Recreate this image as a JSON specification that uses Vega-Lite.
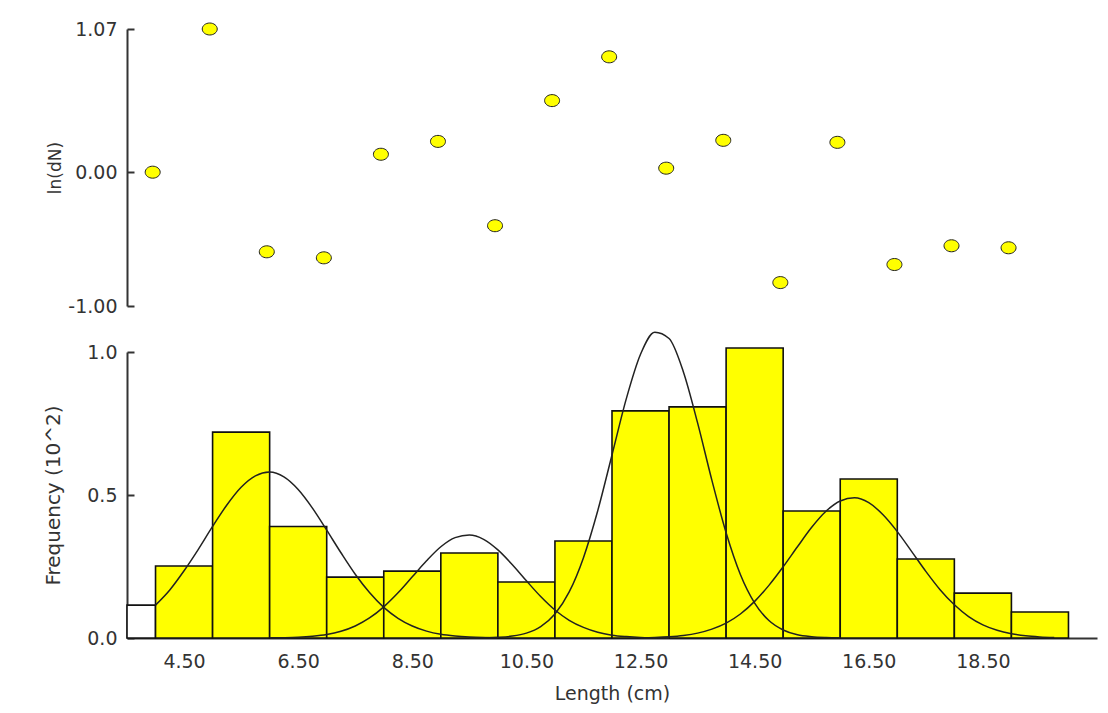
{
  "$schema": "https://vega.github.io/schema/vega-lite/v6.json",
  "background": "white",
  "autosize": {"type": "pad"},
  "padding": {"left": 43, "top": 20, "right": 5, "bottom": 2},
  "spacing": 46,
  "bounds": "flush",
  "config": {
    "view": {"stroke": null},
    "font": "DejaVu Sans",
    "axis": {
      "grid": false,
      "domainColor": "#333333",
      "domainWidth": 2,
      "tickColor": "#333333",
      "tickWidth": 2,
      "tickSize": -7,
      "labelFont": "DejaVu Sans",
      "labelFontSize": 19,
      "labelColor": "#333333",
      "labelPadding": 17,
      "titleFont": "DejaVu Sans",
      "titleFontWeight": "normal",
      "titleColor": "#333333"
    }
  },
  "datasets": {
    "resid": [
      {"length": 3.95, "lndN": 0.0},
      {"length": 4.95, "lndN": 1.07},
      {"length": 5.95, "lndN": -0.595},
      {"length": 6.95, "lndN": -0.64},
      {"length": 7.95, "lndN": 0.134},
      {"length": 8.95, "lndN": 0.23},
      {"length": 9.95, "lndN": -0.40},
      {"length": 10.95, "lndN": 0.535},
      {"length": 11.95, "lndN": 0.862},
      {"length": 12.95, "lndN": 0.03},
      {"length": 13.95, "lndN": 0.238},
      {"length": 14.95, "lndN": -0.825},
      {"length": 15.95, "lndN": 0.223},
      {"length": 16.95, "lndN": -0.69},
      {"length": 17.95, "lndN": -0.55},
      {"length": 18.95, "lndN": -0.565}
    ],
    "bins": [
      {"x0": 3, "x1": 4, "freq": 0.115},
      {"x0": 4, "x1": 5, "freq": 0.252},
      {"x0": 5, "x1": 6, "freq": 0.72},
      {"x0": 6, "x1": 7, "freq": 0.39},
      {"x0": 7, "x1": 8, "freq": 0.213},
      {"x0": 8, "x1": 9, "freq": 0.234},
      {"x0": 9, "x1": 10, "freq": 0.297},
      {"x0": 10, "x1": 11, "freq": 0.196},
      {"x0": 11, "x1": 12, "freq": 0.339},
      {"x0": 12, "x1": 13, "freq": 0.794},
      {"x0": 13, "x1": 14, "freq": 0.808},
      {"x0": 14, "x1": 15, "freq": 1.014},
      {"x0": 15, "x1": 16, "freq": 0.444},
      {"x0": 16, "x1": 17, "freq": 0.556},
      {"x0": 17, "x1": 18, "freq": 0.276},
      {"x0": 18, "x1": 19, "freq": 0.157},
      {"x0": 19, "x1": 20, "freq": 0.091}
    ],
    "curves": [
      {"c": "1", "x": 4.0, "y": 0.115}, {"c": "1", "x": 4.25, "y": 0.168}, {"c": "1", "x": 4.5, "y": 0.235}, {"c": "1", "x": 4.75, "y": 0.31},
      {"c": "1", "x": 5.0, "y": 0.39}, {"c": "1", "x": 5.25, "y": 0.465}, {"c": "1", "x": 5.5, "y": 0.527}, {"c": "1", "x": 5.75, "y": 0.567},
      {"c": "1", "x": 6.0, "y": 0.58}, {"c": "1", "x": 6.25, "y": 0.563}, {"c": "1", "x": 6.5, "y": 0.519}, {"c": "1", "x": 6.75, "y": 0.454},
      {"c": "1", "x": 7.0, "y": 0.377}, {"c": "1", "x": 7.25, "y": 0.298}, {"c": "1", "x": 7.5, "y": 0.223}, {"c": "1", "x": 7.75, "y": 0.159},
      {"c": "1", "x": 8.0, "y": 0.107}, {"c": "1", "x": 8.25, "y": 0.069}, {"c": "1", "x": 8.5, "y": 0.042}, {"c": "1", "x": 8.75, "y": 0.024},
      {"c": "1", "x": 9.0, "y": 0.013}, {"c": "1", "x": 9.25, "y": 0.007}, {"c": "1", "x": 9.5, "y": 0.0035}, {"c": "1", "x": 9.75, "y": 0.0016},
      {"c": "1", "x": 10.0, "y": 0.0007},
      {"c": "2", "x": 6.0, "y": 0.0005}, {"c": "2", "x": 6.25, "y": 0.0012}, {"c": "2", "x": 6.5, "y": 0.0027}, {"c": "2", "x": 6.75, "y": 0.006},
      {"c": "2", "x": 7.0, "y": 0.012}, {"c": "2", "x": 7.25, "y": 0.0235}, {"c": "2", "x": 7.5, "y": 0.042}, {"c": "2", "x": 7.75, "y": 0.07},
      {"c": "2", "x": 8.0, "y": 0.109}, {"c": "2", "x": 8.25, "y": 0.158}, {"c": "2", "x": 8.5, "y": 0.214}, {"c": "2", "x": 8.75, "y": 0.27},
      {"c": "2", "x": 9.0, "y": 0.319}, {"c": "2", "x": 9.25, "y": 0.351}, {"c": "2", "x": 9.5, "y": 0.36}, {"c": "2", "x": 9.75, "y": 0.345},
      {"c": "2", "x": 10.0, "y": 0.308}, {"c": "2", "x": 10.25, "y": 0.257}, {"c": "2", "x": 10.5, "y": 0.2}, {"c": "2", "x": 10.75, "y": 0.145},
      {"c": "2", "x": 11.0, "y": 0.098}, {"c": "2", "x": 11.25, "y": 0.062}, {"c": "2", "x": 11.5, "y": 0.037}, {"c": "2", "x": 11.75, "y": 0.02},
      {"c": "2", "x": 12.0, "y": 0.01}, {"c": "2", "x": 12.25, "y": 0.005}, {"c": "2", "x": 12.5, "y": 0.002}, {"c": "2", "x": 12.75, "y": 0.001},
      {"c": "2", "x": 13.0, "y": 0.0004},
      {"c": "3", "x": 9.5, "y": 0.0002}, {"c": "3", "x": 9.75, "y": 0.0008}, {"c": "3", "x": 10.0, "y": 0.0024}, {"c": "3", "x": 10.25, "y": 0.0066},
      {"c": "3", "x": 10.5, "y": 0.017}, {"c": "3", "x": 10.75, "y": 0.04}, {"c": "3", "x": 11.0, "y": 0.084}, {"c": "3", "x": 11.25, "y": 0.161},
      {"c": "3", "x": 11.5, "y": 0.281}, {"c": "3", "x": 11.75, "y": 0.445}, {"c": "3", "x": 12.0, "y": 0.64}, {"c": "3", "x": 12.25, "y": 0.836},
      {"c": "3", "x": 12.5, "y": 0.992}, {"c": "3", "x": 12.75, "y": 1.069}, {"c": "3", "x": 13.0, "y": 1.047}, {"c": "3", "x": 13.25, "y": 0.931},
      {"c": "3", "x": 13.5, "y": 0.752}, {"c": "3", "x": 13.75, "y": 0.552}, {"c": "3", "x": 14.0, "y": 0.368}, {"c": "3", "x": 14.25, "y": 0.222},
      {"c": "3", "x": 14.5, "y": 0.122}, {"c": "3", "x": 14.75, "y": 0.061}, {"c": "3", "x": 15.0, "y": 0.028}, {"c": "3", "x": 15.25, "y": 0.011},
      {"c": "3", "x": 15.5, "y": 0.0043}, {"c": "3", "x": 15.75, "y": 0.0015}, {"c": "3", "x": 16.0, "y": 0.0004},
      {"c": "4", "x": 12.5, "y": 0.0009}, {"c": "4", "x": 12.75, "y": 0.002}, {"c": "4", "x": 13.0, "y": 0.0044}, {"c": "4", "x": 13.25, "y": 0.0089},
      {"c": "4", "x": 13.5, "y": 0.017}, {"c": "4", "x": 13.75, "y": 0.031}, {"c": "4", "x": 14.0, "y": 0.052}, {"c": "4", "x": 14.25, "y": 0.084},
      {"c": "4", "x": 14.5, "y": 0.128}, {"c": "4", "x": 14.75, "y": 0.184}, {"c": "4", "x": 15.0, "y": 0.249}, {"c": "4", "x": 15.25, "y": 0.319},
      {"c": "4", "x": 15.5, "y": 0.387}, {"c": "4", "x": 15.75, "y": 0.443}, {"c": "4", "x": 16.0, "y": 0.479}, {"c": "4", "x": 16.25, "y": 0.49},
      {"c": "4", "x": 16.5, "y": 0.473}, {"c": "4", "x": 16.75, "y": 0.431}, {"c": "4", "x": 17.0, "y": 0.372}, {"c": "4", "x": 17.25, "y": 0.303},
      {"c": "4", "x": 17.5, "y": 0.233}, {"c": "4", "x": 17.75, "y": 0.169}, {"c": "4", "x": 18.0, "y": 0.116}, {"c": "4", "x": 18.25, "y": 0.075},
      {"c": "4", "x": 18.5, "y": 0.046}, {"c": "4", "x": 18.75, "y": 0.027}, {"c": "4", "x": 19.0, "y": 0.015}, {"c": "4", "x": 19.25, "y": 0.0075},
      {"c": "4", "x": 19.5, "y": 0.0037}, {"c": "4", "x": 19.75, "y": 0.0017}
    ]
  },
  "vconcat": [
    {
      "width": 970,
      "height": 277,
      "layer": [
        {
          "mark": {"type": "rule", "color": "#333333", "strokeWidth": 2},
          "encoding": {"y": {"datum": 0, "type": "quantitative", "scale": {"domain": [-1, 1.07], "nice": false, "zero": false}}}
        },
        {
          "data": {"name": "resid"},
          "mark": {"type": "point", "filled": true, "shape": "M-1,0A1,0.8,0,1,0,1,0A1,0.8,0,1,0,-1,0Z", "size": 225, "fill": "#ffff00", "stroke": "#222222", "strokeWidth": 1, "opacity": 1},
          "encoding": {
            "x": {"field": "length", "type": "quantitative", "scale": {"domain": [3.5, 20.5], "nice": false, "zero": false}, "axis": null},
            "y": {"field": "lndN", "type": "quantitative", "scale": {"domain": [-1, 1.07], "nice": false, "zero": false},
              "axis": {"title": "ln(dN)", "titleFontSize": 17, "titlePadding": 3, "values": [-1, 0, 1.07],
                "labelExpr": "datum.value < 0 ? '-' + format(-datum.value, '.2f') : format(datum.value, '.2f')"}}
          }
        }
      ]
    },
    {
      "width": 970,
      "height": 286,
      "layer": [
        {
          "data": {"name": "bins"},
          "mark": {"type": "bar", "stroke": "#111111", "strokeWidth": 1.6, "opacity": 1},
          "encoding": {
            "x": {"field": "x0", "type": "quantitative", "scale": {"domain": [3.5, 20.5], "nice": false, "zero": false, "clamp": true},
              "axis": {"title": "Length (cm)", "titleFontSize": 19, "values": [4.5, 6.5, 8.5, 10.5, 12.5, 14.5, 16.5, 18.5], "format": ".2f", "labelPadding": 21, "titlePadding": 13}},
            "x2": {"field": "x1"},
            "y": {"field": "freq", "type": "quantitative", "scale": {"domain": [0, 1], "nice": false},
              "axis": {"title": "Frequency (10^2)", "titleFontSize": 20, "titlePadding": 23, "values": [0, 0.5, 1], "format": ".1f"}},
            "y2": {"datum": 0},
            "fill": {"condition": {"test": "datum.x1 <= 4", "value": "#ffffff"}, "value": "#ffff00"}
          }
        },
        {
          "data": {"name": "curves"},
          "mark": {"type": "line", "color": "#222222", "strokeWidth": 1.5, "interpolate": "monotone"},
          "encoding": {
            "x": {"field": "x", "type": "quantitative"},
            "y": {"field": "y", "type": "quantitative"},
            "detail": {"field": "c"}
          }
        }
      ]
    }
  ]
}
